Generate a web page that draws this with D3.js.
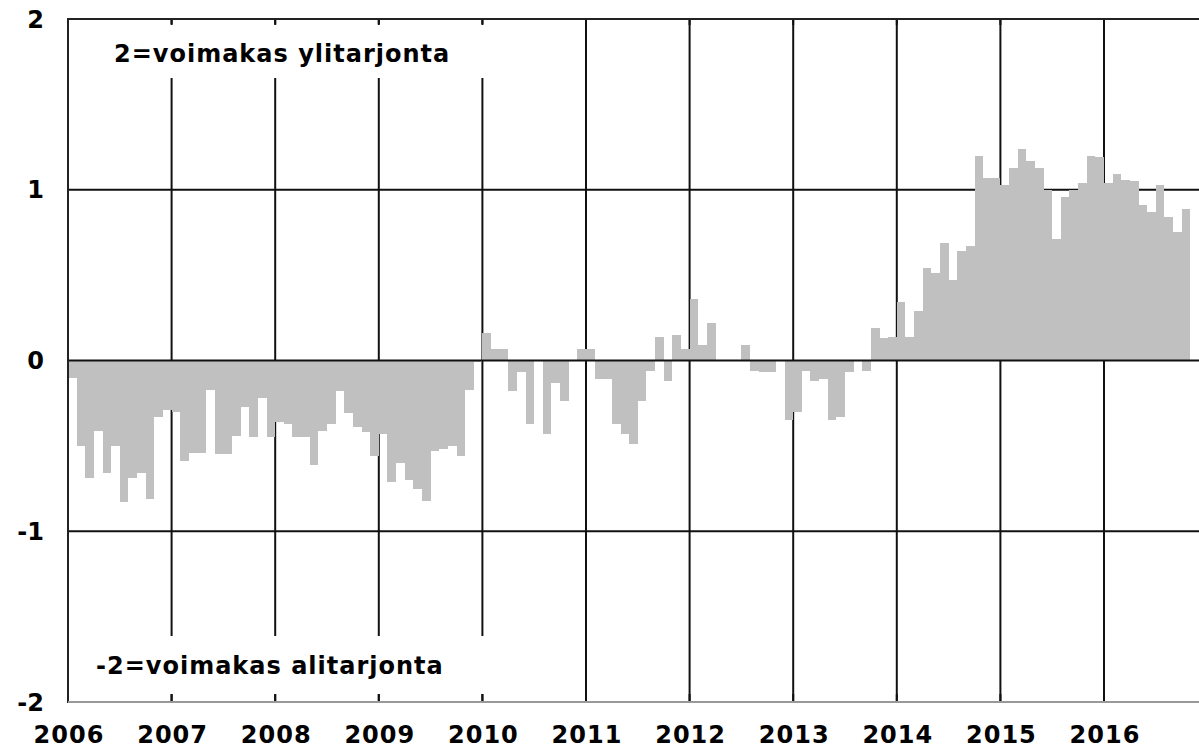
<!DOCTYPE html>
<html lang="fi">
<head>
    <meta charset="UTF-8">
    <title></title>
    <script src="https://d3js.org/d3.v7.min.js"></script>
    <style>
        body { margin: 0; background: #fff; }
        text { font-family: "DejaVu Sans", Verdana, sans-serif; font-weight: bold; fill: #000; }
    </style>
</head>
<body>

<script>
    // kuukausittainen indeksi 2006/01 - 2016/10
    var years = ["2006", "2007", "2008", "2009", "2010", "2011", "2012", "2013", "2014", "2015", "2016"];
    var yTicks = [-2, -1, 0, 1, 2];
    var gridValues = [-1, 1];

    var v2006 = [-0.10, -0.50, -0.69, -0.41, -0.66, -0.50, -0.83, -0.69, -0.66, -0.81, -0.33, -0.29];
    var v2007 = [-0.30, -0.59, -0.54, -0.54, -0.17, -0.55, -0.55, -0.44, -0.27, -0.45, -0.22, -0.45];
    var v2008 = [-0.36, -0.37, -0.45, -0.45, -0.61, -0.41, -0.37, -0.18, -0.31, -0.39, -0.42, -0.56];
    var v2009 = [-0.43, -0.71, -0.60, -0.70, -0.75, -0.82, -0.53, -0.52, -0.50, -0.56, -0.17, -0.01];
    var v2010 = [0.16, 0.07, 0.07, -0.18, -0.07, -0.37, 0.00, -0.43, -0.13, -0.24, 0.00, 0.07];
    var v2011 = [0.07, -0.11, -0.11, -0.37, -0.43, -0.49, -0.24, -0.06, 0.14, -0.12, 0.15, 0.07];
    var v2012 = [0.36, 0.09, 0.22, 0.00, 0.00, 0.00, 0.09, -0.06, -0.07, -0.07, 0.00, -0.35];
    var v2013 = [-0.30, -0.06, -0.12, -0.11, -0.35, -0.33, -0.07, 0.00, -0.06, 0.19, 0.13, 0.14];
    var v2014 = [0.34, 0.14, 0.29, 0.54, 0.51, 0.69, 0.47, 0.64, 0.67, 1.20, 1.07, 1.07];
    var v2015 = [1.03, 1.13, 1.24, 1.17, 1.13, 1.00, 0.71, 0.96, 1.00, 1.04, 1.20, 1.19];
    var v2016 = [1.04, 1.09, 1.06, 1.05, 0.91, 0.87, 1.03, 0.84, 0.75, 0.89];

    var values = [].concat(v2006, v2007, v2008, v2009, v2010, v2011, v2012, v2013, v2014, v2015, v2016);

    var width = 1199,
            height = 749;
    var plotLeft = 68, plotTop = 19, plotBottom = 702, plotRight = 1199;

    var svg = d3.select("body").append("svg")
            .attr("width", width)
            .attr("height", height);

    // x: kuukauden indeksi, y: arvo
    var x = d3.scaleLinear().domain([0, 120]).range([plotLeft, 1104]);
    var y = d3.scaleLinear().domain([-2, 2]).range([plotBottom, plotTop]);

    // pystyviivat vuosien kohdalla
    svg.append("g").selectAll("line")
            .data(years.slice(1))
            .enter()
            .append("line")
            .attr("x1", function (d, i) { return x((i + 1) * 12); })
            .attr("x2", function (d, i) { return x((i + 1) * 12); })
            .attr("y1", plotTop)
            .attr("y2", plotBottom)
            .attr("stroke", "#111")
            .attr("stroke-width", 2);

    svg.append("g").selectAll("line")
            .data(gridValues)
            .enter()
            .append("line")
            .attr("x1", plotLeft)
            .attr("x2", plotRight)
            .attr("y1", function (d) { return y(d); })
            .attr("y2", function (d) { return y(d); })
            .attr("stroke", "#111")
            .attr("stroke-width", 2);

    // pylväät
    svg.append("g").selectAll("rect")
            .data(values)
            .enter()
            .append("rect")
            .attr("fill", "#c0c0c0")
            .attr("x", function (d, i) { return x(i); })
            .attr("width", function (d, i) { return x(i + 1) - x(i); })
            .attr("y", function (d) { return y(Math.max(0, d)); })
            .attr("height", function (d) { return Math.abs(y(d) - y(0)); })
            .attr("shape-rendering", "crispEdges");

    svg.append("line")
            .attr("x1", plotLeft).attr("x2", plotRight)
            .attr("y1", y(0)).attr("y2", y(0))
            .attr("stroke", "#111")
            .attr("stroke-width", 2);

    // tekstilaatikot peittävät ruudukon
    svg.append("rect").attr("x", plotLeft + 2).attr("y", 24).attr("width", 425).attr("height", 54).attr("fill", "#fff");
    svg.append("rect").attr("x", plotLeft + 2).attr("y", 636).attr("width", 425).attr("height", 58).attr("fill", "#fff");

    // pienet merkit ylä- ja alareunassa
    var tickYears = years.slice(1);
    svg.append("g").selectAll("line")
            .data(tickYears)
            .enter()
            .append("line")
            .attr("x1", function (d, i) { return x((i + 1) * 12); })
            .attr("x2", function (d, i) { return x((i + 1) * 12); })
            .attr("y1", plotTop)
            .attr("y2", plotTop + 6)
            .attr("stroke", "#111")
            .attr("stroke-width", 2);
    svg.append("g").selectAll("line")
            .data(tickYears)
            .enter()
            .append("line")
            .attr("x1", function (d, i) { return x((i + 1) * 12); })
            .attr("x2", function (d, i) { return x((i + 1) * 12); })
            .attr("y1", plotBottom - 8)
            .attr("y2", plotBottom)
            .attr("stroke", "#111")
            .attr("stroke-width", 2);

    // reunat
    svg.append("line")
            .attr("x1", plotLeft).attr("x2", plotRight)
            .attr("y1", plotTop).attr("y2", plotTop)
            .attr("stroke", "#222").attr("stroke-width", 2);
    svg.append("line")
            .attr("x1", plotLeft).attr("x2", plotLeft)
            .attr("y1", plotTop - 1).attr("y2", plotBottom + 1)
            .attr("stroke", "#222").attr("stroke-width", 2);
    svg.append("line")
            .attr("x1", plotLeft).attr("x2", plotRight)
            .attr("y1", plotBottom).attr("y2", plotBottom)
            .attr("stroke", "#999").attr("stroke-width", 2);

    // akselien tekstit
    svg.append("g").selectAll("text")
            .data(yTicks)
            .enter()
            .append("text")
            .attr("x", 44)
            .attr("y", function (d) { return y(d); })
            .attr("dy", "0.36em")
            .attr("text-anchor", "end")
            .attr("font-size", 24)
            .text(function (d) { return d; });

    svg.append("g").selectAll("text")
            .data(years)
            .enter()
            .append("text")
            .attr("x", function (d, i) { return x(i * 12) + 1; })
            .attr("y", 743)
            .attr("text-anchor", "middle")
            .attr("font-size", 24)
            .attr("letter-spacing", 1)
            .text(function (d) { return d; });

    svg.append("text")
            .attr("x", 114)
            .attr("y", 62)
            .attr("font-size", 24)
            .attr("letter-spacing", 1)
            .text("2=voimakas ylitarjonta");

    svg.append("text")
            .attr("x", 96)
            .attr("y", 674)
            .attr("font-size", 24)
            .attr("letter-spacing", 1)
            .text("-2=voimakas alitarjonta");
</script>

</body>
</html>
